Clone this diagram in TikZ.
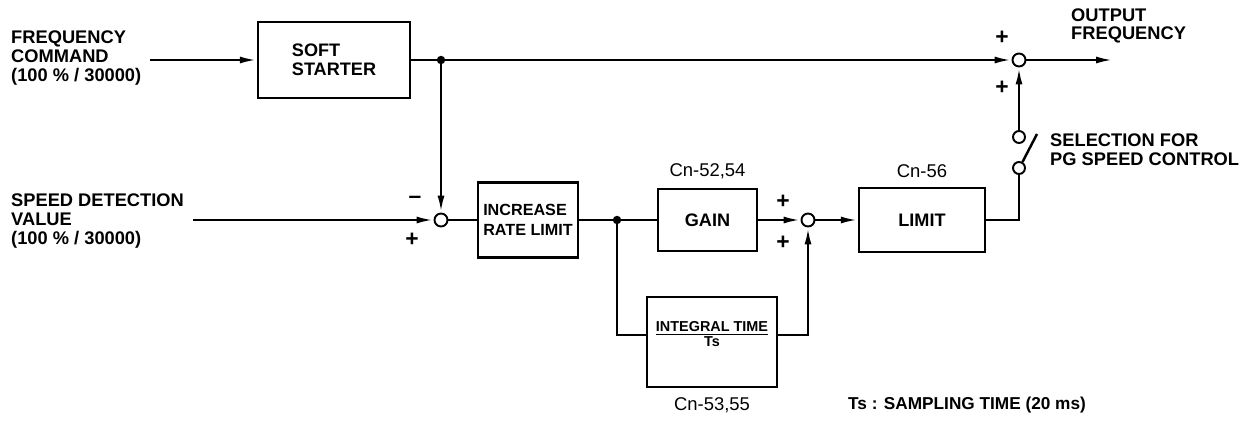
\documentclass[tikz,border=0pt]{standalone}
\usepackage{fontspec}
\setmainfont{Liberation Sans}
\usetikzlibrary{arrows.meta, positioning}

\begin{document}
\begin{tikzpicture}[
    line width=1.4pt,
    >={Latex[length=3.4mm,width=1.4mm]},
    block/.style={rectangle, draw, align=left, inner sep=0pt, font=\bfseries\fontsize{10.3}{10.6}\selectfont},
    junction/.style={circle, draw, fill=white, inner sep=0pt, minimum size=0.26cm, line width=1.1pt},
    contact/.style={circle, draw, fill=white, inner sep=0pt, minimum size=0.24cm, line width=1.1pt},
    sign/.style={font=\bfseries\fontsize{13}{13}\selectfont, inner sep=0pt},
    caption/.style={align=left, anchor=west, inner sep=0pt, font=\bfseries\fontsize{10.4}{10.6}\selectfont},
    param/.style={font=\fontsize{10.5}{10.5}\selectfont, inner sep=0pt}
]
\useasboundingbox (0,0) rectangle (24.88,8.42);

% Nodes
\node[caption] (freqText) at (0.2,7.26) {FREQUENCY\\COMMAND\\(100 \% / 30000)};
\coordinate (freqIn) at (3.0,7.22);
\node[block, minimum width=3.04cm, minimum height=1.52cm] (soft) at (6.68,7.22) {SOFT\\STARTER};
\coordinate (tap) at (8.82,7.22);
\node[junction] (sumOut) at (20.38,7.22) {};
\coordinate (outEnd) at (22.26,7.22);
\node[caption] (outText) at (21.4,7.9) {OUTPUT\\FREQUENCY};

\node[caption] (speedText) at (0.2,4.0) {SPEED DETECTION\\VALUE\\(100 \% / 30000)};
\coordinate (speedIn) at (3.86,4.02);
\node[junction] (sumErr) at (8.82,4.02) {};
\node[block, font=\bfseries\fontsize{9.2}{11}\selectfont, minimum width=2cm, minimum height=1.5cm] (rate) at (10.56,4.02) {INCREASE\\RATE LIMIT};
\coordinate (split) at (12.34,4.02);
\node[block, minimum width=1.98cm, minimum height=1.24cm] (gain) at (14.15,4.02) {GAIN};
\node[param, above=0.16cm of gain] (gainPar) {Cn-52,54};
\node[junction] (sumPI) at (16.16,4.02) {};
\node[block, minimum width=2.6cm, minimum height=1.8cm] (integ) at (14.24,1.58) {};
\node[font=\bfseries\fontsize{8.2}{8.5}\selectfont, align=center, inner sep=0pt] (integText) at (14.24,1.74) {\underline{INTEGRAL TIME}\\Ts};
\node[param, below=0.16cm of integ] (integPar) {Cn-53,55};
\node[block, minimum width=2.52cm, minimum height=1.28cm] (limit) at (18.44,4.02) {LIMIT};
\node[param, above=0.16cm of limit] (limitPar) {Cn-56};

\node[contact] (swLow) at (20.38,5.06) {};
\node[contact] (swHigh) at (20.38,5.68) {};
\coordinate (bladeEnd) at (20.74,5.74);
\node[caption] (selText) at (20.98,5.42) {SELECTION FOR\\PG SPEED CONTROL};
\node[caption, font=\bfseries\fontsize{9.8}{10}\selectfont] (tsNote) at (16.94,0.32) {Ts : SAMPLING TIME (20 ms)};

% Signs
\node[sign] (minusErr) at (8.3,4.42) {--};
\node[sign] (plusErr) at (8.24,3.62) {+};
\node[sign] (plusGain) at (15.66,4.38) {+};
\node[sign] (plusInteg) at (15.66,3.56) {+};
\node[sign] (plusMain) at (20.04,7.66) {+};
\node[sign] (plusPG) at (20.04,6.66) {+};

% Edges
\draw[->] (freqIn) -- (soft);
\draw (soft) -- (tap);
\draw[->] (tap) -- (sumOut);
\draw[->] (sumOut) -- (outEnd);
\draw[->] (tap) -- (sumErr);
\draw[->] (speedIn) -- (sumErr);
\draw (sumErr) -- (rate);
\draw (rate) -- (split);
\draw (split) -- (gain);
\draw[->] (gain) -- (sumPI);
\draw (split) |- (integ.174);
\draw[->] (integ.6) -| (sumPI);
\draw[->] (sumPI) -- (limit);
\draw (limit) -| (swLow);
\draw (swLow.60) -- (bladeEnd);
\draw[->] (swHigh) -- (sumOut);
\fill (tap) circle (2.4pt);
\fill (split) circle (2.4pt);

\end{tikzpicture}
\end{document}
